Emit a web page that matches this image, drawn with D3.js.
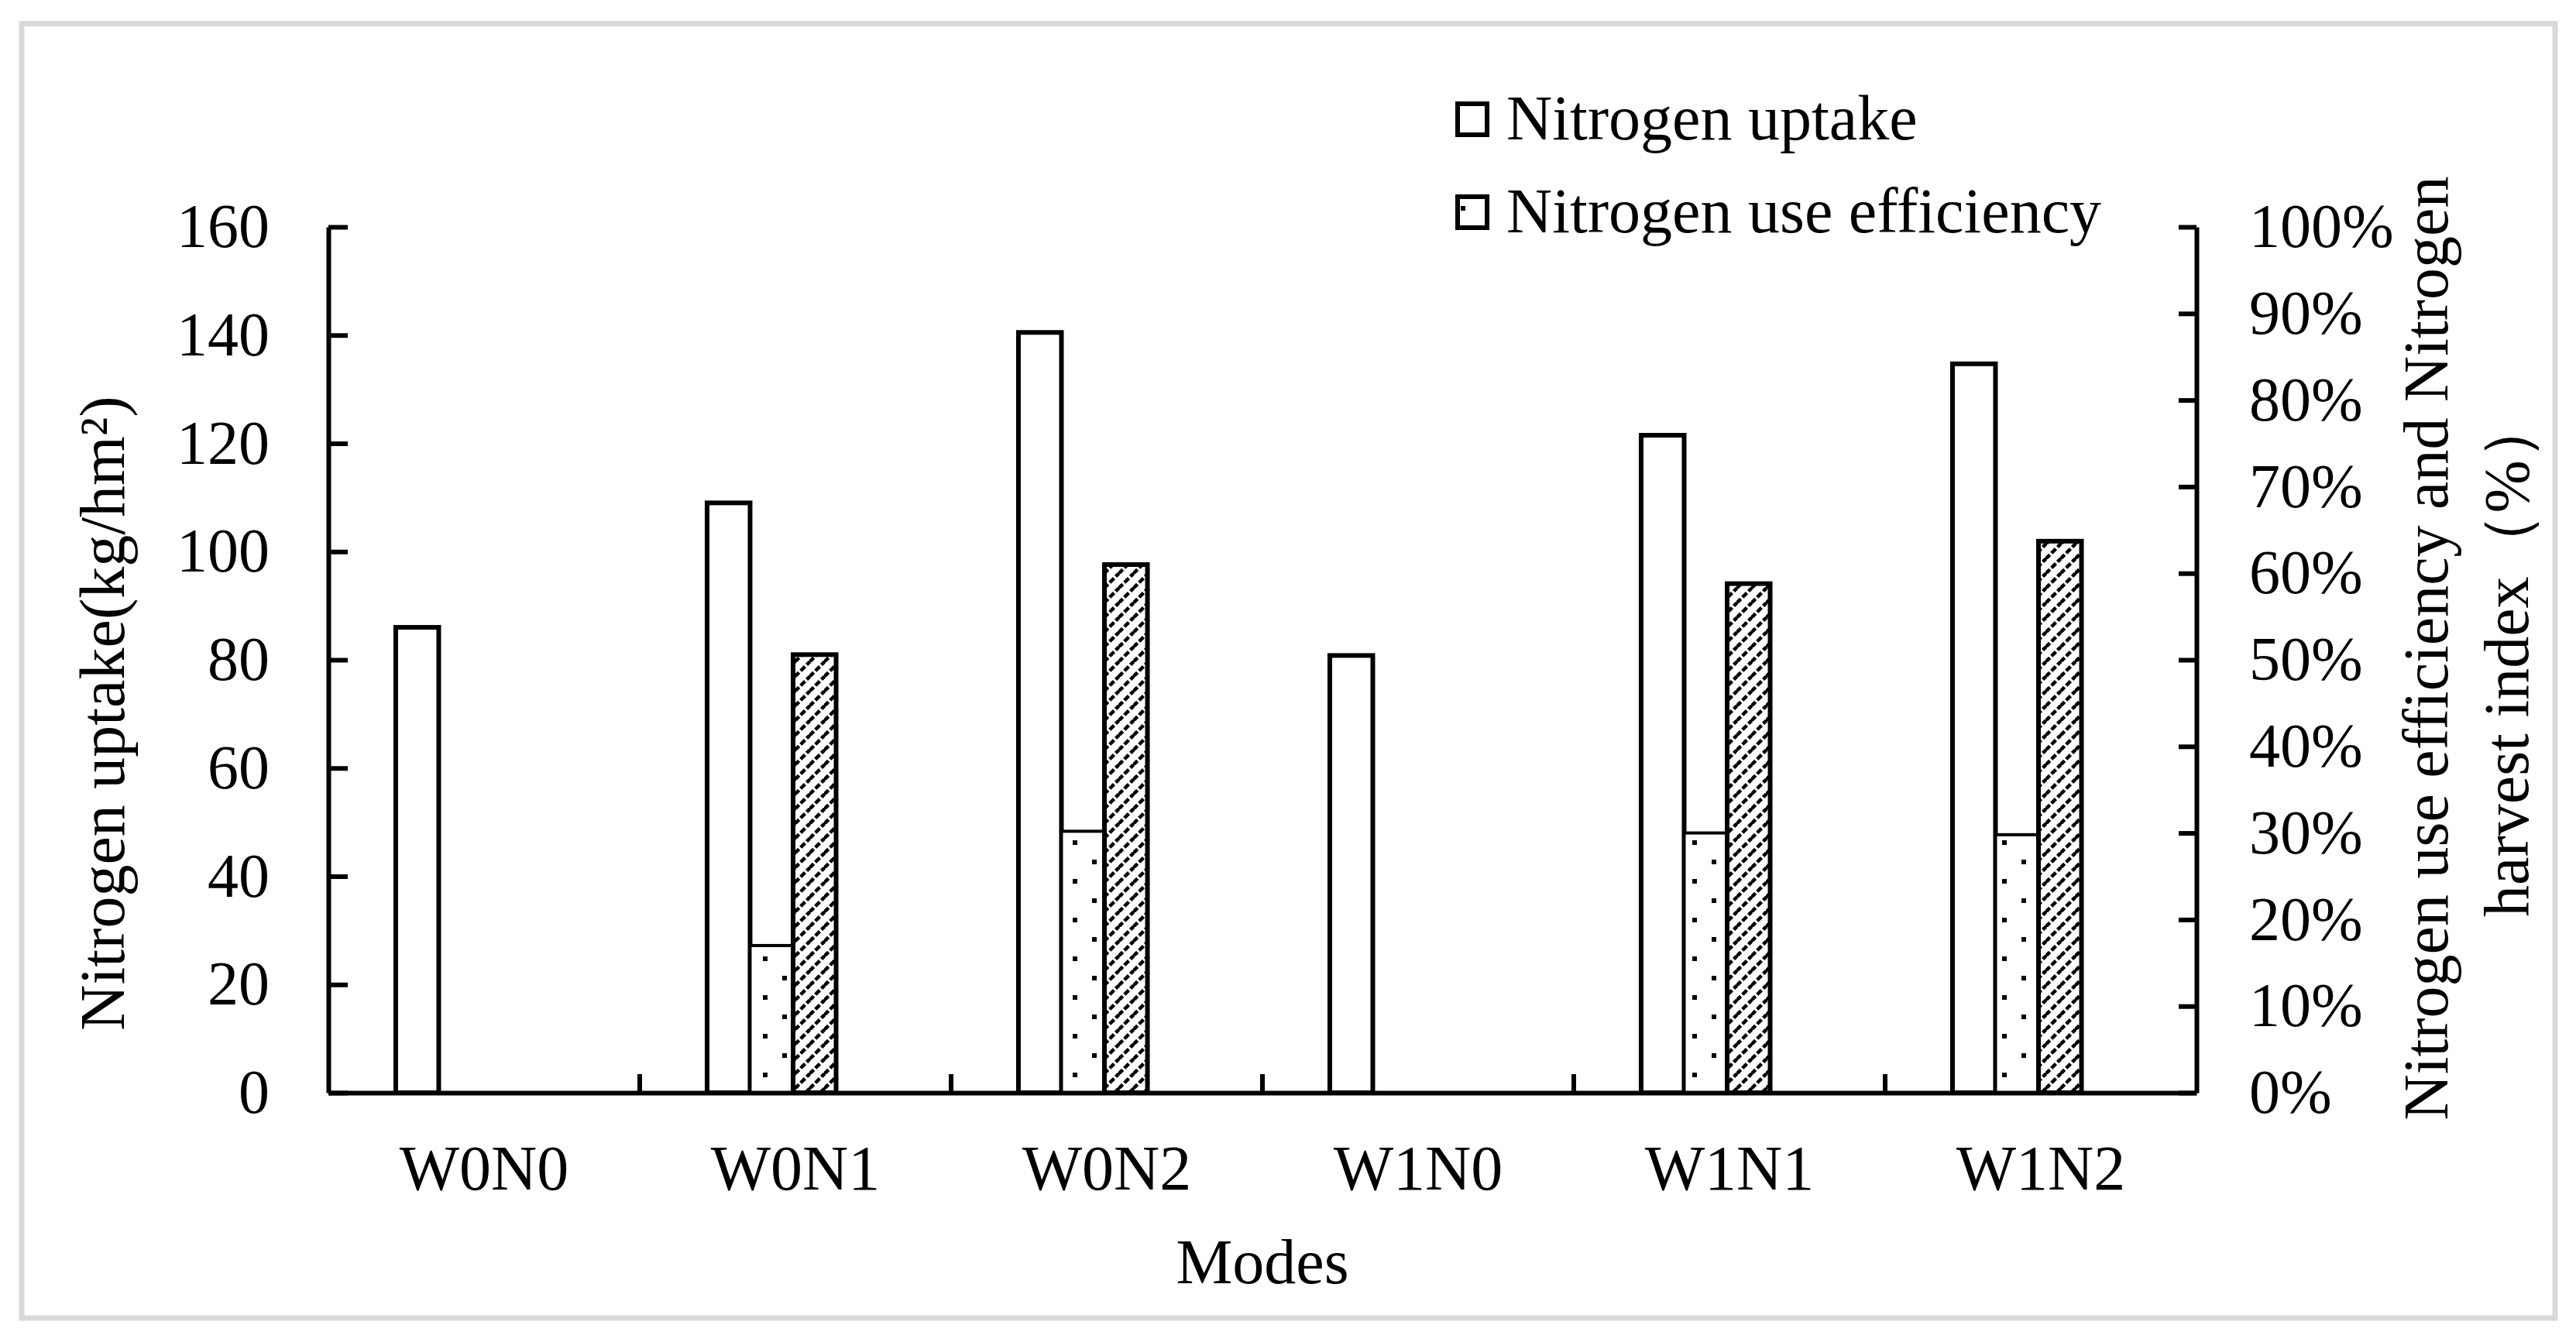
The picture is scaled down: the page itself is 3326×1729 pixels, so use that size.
<!DOCTYPE html>
<html>
<head>
<meta charset="utf-8">
<script src="https://cdn.jsdelivr.net/npm/d3@7"></script>
<style>
  html, body { margin: 0; padding: 0; background: #fff; }
  svg { display: block; }
  text { font-family: "Liberation Serif", "Times New Roman", serif; fill: #000; }
</style>
</head>
<body>
<svg id="chart" width="3326" height="1729"></svg>
<script>
// ---------- data ----------
const categories = ["W0N0", "W0N1", "W0N2", "W1N0", "W1N1", "W1N2"];
const nitrogenUptake = [86.0, 109.0, 140.5, 80.8, 121.5, 134.7];          // kg/hm², left axis
const nitrogenUseEfficiency = [null, 0.170, 0.302, null, 0.300, 0.298];   // dotted, right axis
const nitrogenHarvestIndex = [null, 0.506, 0.610, null, 0.588, 0.637];    // hatched, right axis
const leftTicks = [0, 20, 40, 60, 80, 100, 120, 140, 160];
const rightTicks = [0, 0.1, 0.2, 0.3, 0.4, 0.5, 0.6, 0.7, 0.8, 0.9, 1.0];
const legendLabels = ["Nitrogen uptake", "Nitrogen use efficiency"];
const xTitle = "Modes";
const yLeftTitle = "Nitrogen uptake(kg/hm²)";
const yRightTitle = ["Nitrogen use efficiency and Nitrogen", "harvest index（%）"];

// ---------- layout ----------
const svg = d3.select("#chart");
const plot = { left: 424, right: 2836, top: 293, bottom: 1411 };
const FONT = 80;
const FONT_T = 82;

// frame
svg.append("rect")
  .attr("x", 28).attr("y", 30.5).attr("width", 3271).attr("height", 1671.5)
  .attr("fill", "#fff").attr("stroke", "#d9d9d9").attr("stroke-width", 7);

// patterns
const defs = svg.append("defs");
const dots = defs.append("pattern").attr("id", "dots")
  .attr("patternUnits", "userSpaceOnUse").attr("width", 50).attr("height", 50)
  .attr("x", 0).attr("y", 0);
dots.append("rect").attr("width", 50).attr("height", 50).attr("fill", "#fff");
dots.append("rect").attr("x", 10).attr("y", 10).attr("width", 6).attr("height", 6).attr("fill", "#000");
dots.append("rect").attr("x", 35).attr("y", 35).attr("width", 6).attr("height", 6).attr("fill", "#000");

const legendDot = defs.append("pattern").attr("id", "legendDot")
  .attr("patternUnits", "userSpaceOnUse").attr("width", 50).attr("height", 50)
  .attr("x", 1884).attr("y", 264);
legendDot.append("rect").attr("width", 50).attr("height", 50).attr("fill", "#fff");
legendDot.append("rect").attr("x", 2).attr("y", 2).attr("width", 6).attr("height", 6).attr("fill", "#000");

const hatch = defs.append("pattern").attr("id", "hatch")
  .attr("patternUnits", "userSpaceOnUse").attr("width", 19).attr("height", 19);
hatch.append("rect").attr("width", 19).attr("height", 19).attr("fill", "#fff");
hatch.append("path")
  .attr("d", "M-5,5 L5,-5 M0,19 L19,0 M14,24 L24,14")
  .attr("stroke", "#000").attr("stroke-width", 4.5).attr("stroke-dasharray", "8,3");

// ---------- scales ----------
const x0 = d3.scaleBand().domain(categories).range([plot.left, plot.right]).padding(0);
const slots = ["uptake", "nue", "nhi", "empty"];
const x1 = d3.scaleBand().domain(slots)
  .range([-3, x0.bandwidth() - 3]).paddingInner(0).paddingOuter(1.62);
const yL = d3.scaleLinear().domain([0, 160]).range([plot.bottom, plot.top]);
const yR = d3.scaleLinear().domain([0, 1]).range([plot.bottom, plot.top]);

// ---------- bars ----------
const rows = categories.map((c, i) => ({
  cat: c, uptake: nitrogenUptake[i], nue: nitrogenUseEfficiency[i], nhi: nitrogenHarvestIndex[i]
}));

const g = svg.append("g");
// uptake (left axis)
g.selectAll("rect.uptake").data(rows).join("rect")
  .attr("class", "uptake")
  .attr("x", d => x0(d.cat) + x1("uptake"))
  .attr("width", x1.bandwidth())
  .attr("y", d => yL(d.uptake))
  .attr("height", d => yL(0) - yL(d.uptake))
  .attr("fill", "#fff").attr("stroke", "#000").attr("stroke-width", 6);
// nitrogen use efficiency (dotted, right axis)
g.selectAll("rect.nue").data(rows.filter(d => d.nue != null)).join("rect")
  .attr("class", "nue")
  .attr("x", d => x0(d.cat) + x1("nue"))
  .attr("width", x1.bandwidth())
  .attr("y", d => yR(d.nue))
  .attr("height", d => yR(0) - yR(d.nue))
  .attr("fill", "url(#dots)").attr("stroke", "#000").attr("stroke-width", 4);
// harvest index (hatched, right axis)
g.selectAll("rect.nhi").data(rows.filter(d => d.nhi != null)).join("rect")
  .attr("class", "nhi")
  .attr("x", d => x0(d.cat) + x1("nhi"))
  .attr("width", x1.bandwidth())
  .attr("y", d => yR(d.nhi))
  .attr("height", d => yR(0) - yR(d.nhi))
  .attr("fill", "url(#hatch)").attr("stroke", "#000").attr("stroke-width", 6);

// ---------- axes ----------
const axL = svg.append("g").attr("transform", `translate(${plot.left},0)`)
  .call(d3.axisLeft(yL).tickValues(leftTicks).tickSizeInner(-25).tickSizeOuter(0).tickPadding(76));
const axR = svg.append("g").attr("transform", `translate(${plot.right},0)`)
  .call(d3.axisRight(yR).tickValues(rightTicks).tickSizeInner(-23).tickSizeOuter(0).tickPadding(68)
    .tickFormat(d3.format(".0%")));
const axB = svg.append("g").attr("transform", `translate(0,${plot.bottom})`)
  .call(d3.axisBottom(x0).tickSize(0).tickPadding(67));

[axL, axR, axB].forEach(a => {
  a.select(".domain").attr("stroke", "#000").attr("stroke-width", 6);
  a.selectAll(".tick line").attr("stroke", "#000").attr("stroke-width", 6);
  a.selectAll("text").attr("font-size", FONT);
});
axB.selectAll("text").attr("font-size", FONT_T);
[axL, axR, axB].forEach(a => a.attr("font-family", null).attr("font-size", null));

// category boundary ticks (pointing up)
const bounds = categories.map(c => x0(c)).concat([x0(categories[categories.length - 1]) + x0.bandwidth()]);
svg.append("g").selectAll("line").data(bounds.slice(1, -1)).join("line")
  .attr("x1", d => d).attr("x2", d => d)
  .attr("y1", plot.bottom).attr("y2", plot.bottom - 24)
  .attr("stroke", "#000").attr("stroke-width", 6);

// ---------- titles ----------
svg.append("text").attr("x", (plot.left + plot.right) / 2).attr("y", 1657)
  .attr("text-anchor", "middle").attr("font-size", FONT_T).text(xTitle);

svg.append("text").attr("transform", "translate(160,921) rotate(-90)")
  .attr("text-anchor", "middle").attr("font-size", FONT_T).text(yLeftTitle);

svg.append("g").selectAll("text").data(yRightTitle).join("text")
  .attr("transform", (d, i) => `translate(${3160 + i * 104},${i === 0 ? 837 : 848}) rotate(-90)`)
  .attr("text-anchor", "middle").attr("font-size", FONT_T).text(d => d);

// ---------- legend ----------
const legendFills = ["#fff", "url(#legendDot)"];
const lg = svg.append("g");
legendLabels.forEach((lab, i) => {
  const yy = 134 + i * 120;
  lg.append("rect").attr("x", 1882).attr("y", yy).attr("width", 38).attr("height", 40)
    .attr("fill", legendFills[i]).attr("stroke", "#000").attr("stroke-width", 6);
  lg.append("text").attr("x", 1945).attr("y", yy + 46)
    .attr("font-size", FONT_T).text(lab);
});
</script>
</body>
</html>
